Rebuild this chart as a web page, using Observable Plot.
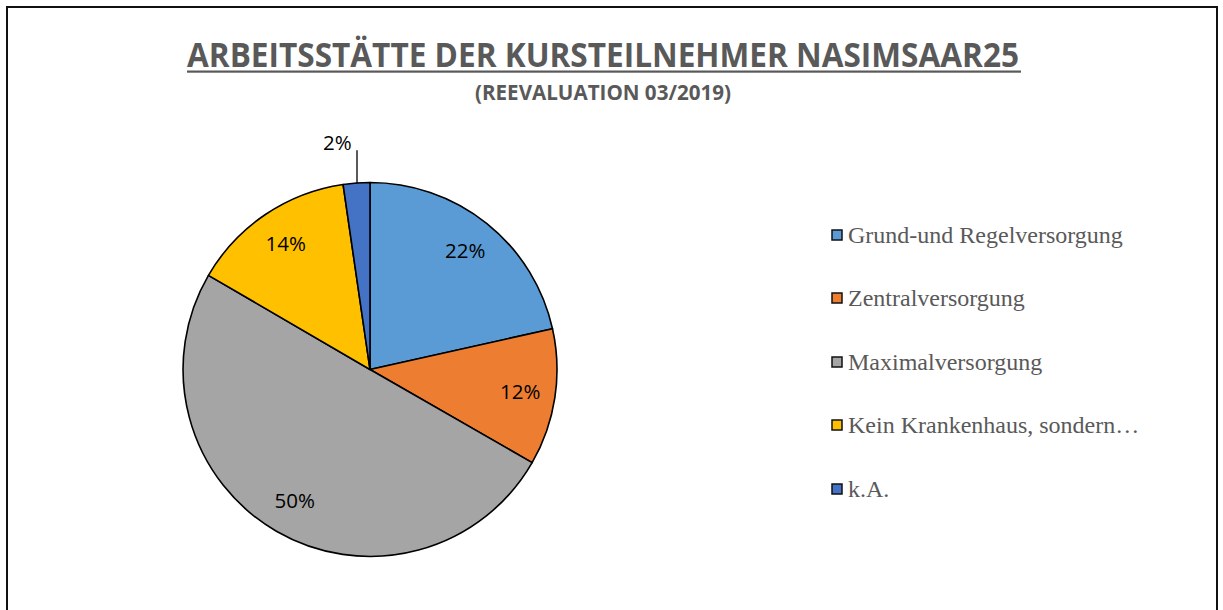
<!DOCTYPE html>
<html>
<head>
<meta charset="utf-8">
<script src="https://cdn.jsdelivr.net/npm/d3@7"></script>
<script src="https://cdn.jsdelivr.net/npm/@observablehq/plot@0.6"></script>
<style>
  html, body { margin: 0; padding: 0; background: #fff; }
  body { width: 1223px; height: 610px; position: relative; overflow: hidden; }
  #frame { position: absolute; left: 6px; top: 6px; width: 1212px; height: 700px; border: 2px solid #111; box-sizing: border-box; }
  #chart, #head, #legend { position: absolute; left: 0; top: 0; }
</style>
</head>
<body>
<div id="frame"></div>
<div id="chart"></div>
<svg id="head" width="1223" height="120"></svg>
<svg id="legend" width="1223" height="610"></svg>
<script>
const titleText = "ARBEITSSTÄTTE DER KURSTEILNEHMER NASIMSAAR25";
const subtitleText = "(REEVALUATION 03/2019)";
const categories = ["Grund-und Regelversorgung", "Zentralversorgung", "Maximalversorgung", "Kein Krankenhaus, sondern…", "k.A."];
const shares = [21.5, 11.8, 50.1, 14.3, 2.3];
const colors = ["#5B9BD5", "#ED7D31", "#A5A5A5", "#FFC000", "#4472C4"];

const data = categories.map((c, i) => ({cat: c, value: shares[i], color: colors[i]}));
const arcs = d3.pie().sort(null).value(d => d.value)(data);
const slices = arcs.map(a => {
  const mid = (a.startAngle + a.endAngle) / 2;
  return {cat: a.data.cat, value: a.data.value, mid, label: Math.round(a.data.value) + "%"};
});
const inside = slices.filter(s => s.value >= 5);
const outside = slices.filter(s => s.value < 5);

const colorOf = d3.scaleOrdinal(categories, colors);

function pieRender(index, scales) {
  const cx = scales.x(0), cy = scales.y(0), r = scales.x(1) - scales.x(0);
  const g = d3.create("svg:g").attr("transform", `translate(${cx},${cy})`);
  g.selectAll("path").data(arcs).join("path")
    .attr("d", d3.arc().innerRadius(0).outerRadius(r))
    .attr("fill", d => colorOf(d.data.cat))
    .attr("stroke", "#000")
    .attr("stroke-width", 1.6)
    .attr("stroke-linejoin", "round");
  return g.node();
}

const plot = Plot.plot({
  width: 1223,
  height: 610,
  margin: 0,
  x: {domain: [-1, 1], range: [183, 557], axis: null},
  y: {domain: [-1, 1], range: [556.5, 182.5], axis: null},
  marks: [
    pieRender,
    Plot.text(inside, {
      x: d => 0.81 * Math.sin(d.mid),
      y: d => 0.81 * Math.cos(d.mid),
      text: "label",
      fill: "#000",
      fontSize: 20.5,
      fontFamily: "'Open Sans', 'Liberation Sans', sans-serif"
    }),
    Plot.link(outside, {
      x1: d => Math.sin(d.mid),
      y1: d => Math.cos(d.mid),
      x2: d => Math.sin(d.mid),
      y2: 1.175,
      stroke: "#000",
      strokeWidth: 1.3
    }),
    Plot.text(outside, {
      x: d => Math.sin(d.mid) - 0.105,
      y: 1.21,
      text: "label",
      fill: "#000",
      fontSize: 20.5,
      fontFamily: "'Open Sans', 'Liberation Sans', sans-serif"
    })
  ]
});
document.getElementById("chart").appendChild(plot);

// Title
const head = d3.select("#head");
head.append("text")
  .attr("x", 187).attr("y", 67)
  .attr("textLength", 832).attr("lengthAdjust", "spacingAndGlyphs")
  .attr("font-family", "'Open Sans', 'DejaVu Sans', sans-serif")
  .attr("font-weight", "bold").attr("font-size", 34)
  .attr("fill", "#595959")
  .text(titleText);
head.append("rect").attr("x", 187).attr("y", 70.5).attr("width", 834).attr("height", 2.2).attr("fill", "#595959");
head.append("text")
  .attr("x", 475).attr("y", 100)
  .attr("textLength", 256).attr("lengthAdjust", "spacingAndGlyphs")
  .attr("font-family", "'Open Sans', 'DejaVu Sans', sans-serif")
  .attr("font-weight", "bold").attr("font-size", 21)
  .attr("fill", "#595959")
  .text(subtitleText);

// Legend
const lg = d3.select("#legend");
const baselines = [243, 306, 370, 433, 497];
const items = lg.selectAll("g").data(categories).join("g")
  .attr("transform", (d, i) => `translate(0,${baselines[i]})`);
items.append("rect")
  .attr("x", 832).attr("y", -13).attr("width", 10).attr("height", 10)
  .attr("fill", d => colorOf(d)).attr("stroke", "#111").attr("stroke-width", 1.5);
items.append("text")
  .attr("x", 848).attr("y", 0)
  .attr("font-family", "'Liberation Serif', 'Times New Roman', serif")
  .attr("font-size", 24)
  .attr("fill", "#595959")
  .text(d => d);
</script>
</body>
</html>
